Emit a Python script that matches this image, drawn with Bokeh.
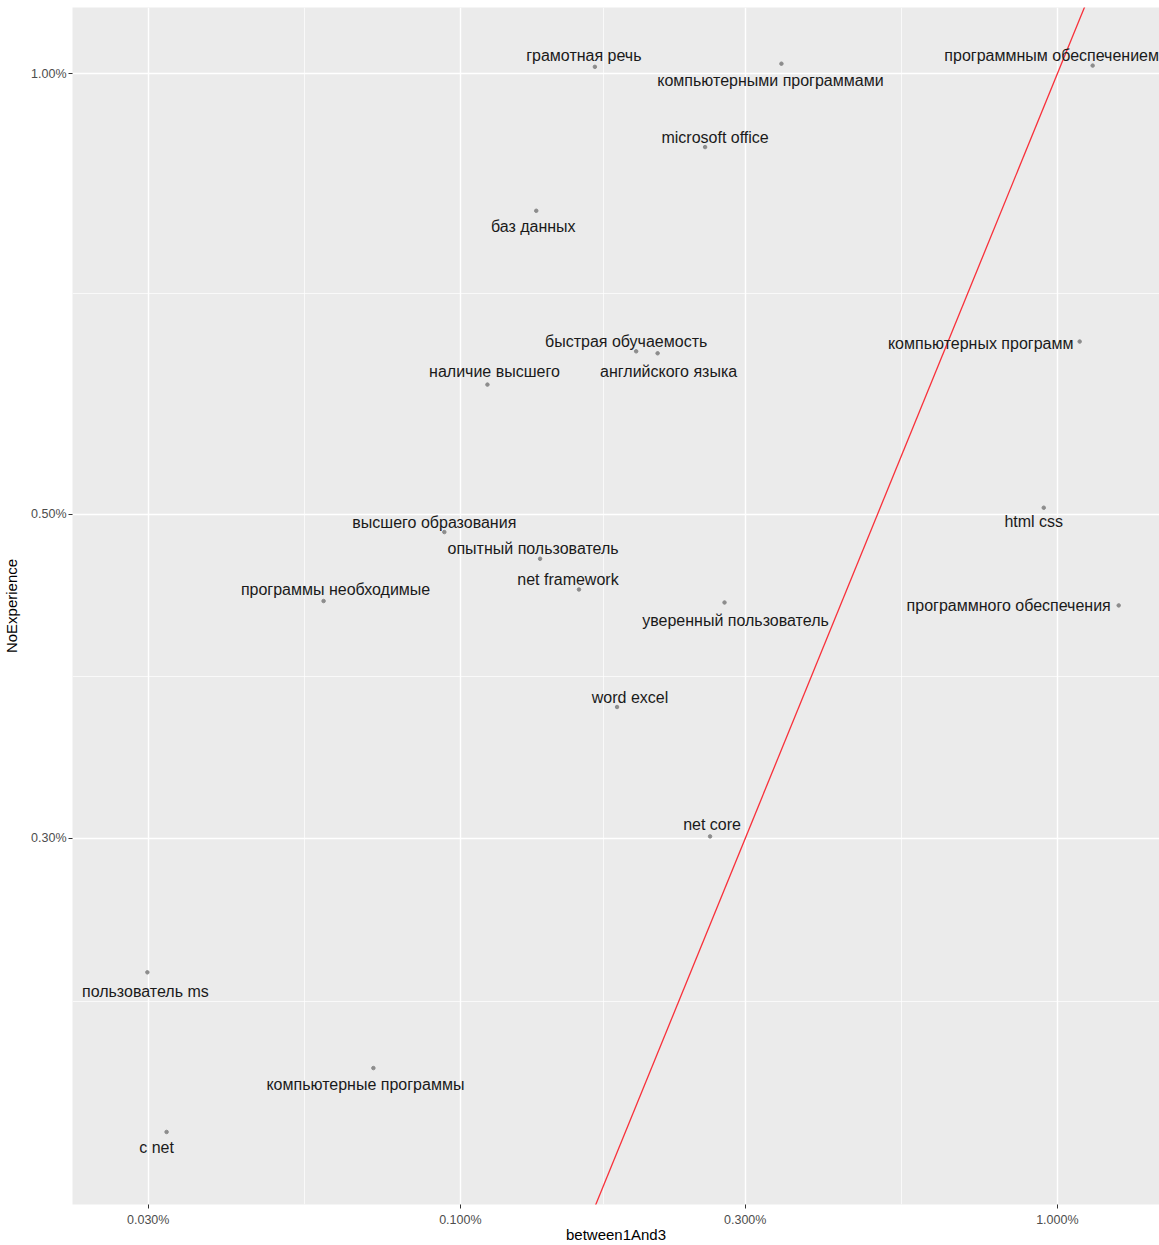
from bokeh.plotting import figure
from bokeh.models import ColumnDataSource, FixedTicker, Range1d
from bokeh.embed import file_html
from bokeh.resources import INLINE
from bokeh.core.properties import value

# ---- data (shares) ----
words = [
    "грамотная речь", "компьютерными программами", "программным обеспечением",
    "microsoft office", "баз данных", "быстрая обучаемость", "английского языка",
    "наличие высшего", "компьютерных программ", "высшего образования",
    "опытный пользователь", "net framework", "программы необходимые",
    "уверенный пользователь", "html css", "программного обеспечения",
    "word excel", "net core", "пользователь ms", "компьютерные программы", "c net",
]
between1And3 = [
    0.00168, 0.00345, 0.01146, 0.00257, 0.00134, 0.00197, 0.00214,
    0.00111, 0.01090, 0.00094, 0.00136, 0.00158, 0.00059, 0.00277,
    0.00949, 0.01267, 0.00183, 0.00262, 0.000299, 0.000715, 0.000322,
]
noExperience = [
    0.01011, 0.01016, 0.01013, 0.00891, 0.00806, 0.00646, 0.00644,
    0.00613, 0.00656, 0.00486, 0.00466, 0.00444, 0.00436, 0.00435,
    0.00505, 0.00433, 0.00369, 0.00301, 0.00243, 0.00209, 0.00189,
]
# label displacement (screen px) as placed by the repel layout
label_dx = [-11, -11, -41, 10, -3, -10, 11, 7, -99, -10, -7, -11, 12, 11, -10, -110, 13, 2, -2, -8, -10]
label_dy = [-11, 17, -10, -10, 16, -10, 18, -13, 2, -10, -10, -10, -12, 18, 14, 0, -10, -12, 19, 16, 16]

x_ticks = [0.0003, 0.001, 0.003, 0.01]
x_tick_labels = ["0.030%", "0.100%", "0.300%", "1.000%"]
x_minor = [10 ** -3.261, 10 ** -2.761, 10 ** -2.261]
y_ticks = [0.003, 0.005, 0.01]
y_tick_labels = ["0.30%", "0.50%", "1.00%"]
y_minor = [10 ** -2.634, 10 ** -2.412, 10 ** -2.15]

x_lo, x_hi = 0.000224, 0.01483
y_lo, y_hi = 0.001686, 0.01110

FONT = "Liberation Sans"

src = ColumnDataSource(dict(x=between1And3, y=noExperience, w=words,
                            dx=label_dx, dy=label_dy))

p = figure(width=1159, height=1245, x_axis_type="log", y_axis_type="log",
           x_range=Range1d(x_lo, x_hi), y_range=Range1d(y_lo, y_hi),
           output_backend="svg", toolbar_location=None,
           min_border_left=72, min_border_right=0, min_border_top=7,
           min_border_bottom=40)

p.background_fill_color = "#EBEBEB"
p.border_fill_color = "white"
p.outline_line_color = None

for ax, ticks, labels, minor in ((p.xaxis[0], x_ticks, x_tick_labels, x_minor),
                                 (p.yaxis[0], y_ticks, y_tick_labels, y_minor)):
    ax.ticker = FixedTicker(ticks=ticks, minor_ticks=minor)
    ax.major_label_overrides = {t: l for t, l in zip(ticks, labels)}
    ax.axis_line_color = None
    ax.major_tick_line_color = "#333333"
    ax.major_tick_in = 0
    ax.major_tick_out = 4
    ax.minor_tick_line_color = None
    ax.major_label_text_color = "#4D4D4D"
    ax.major_label_text_font = FONT
    ax.major_label_text_font_size = "12.5px"
    ax.axis_label_text_font = FONT
    ax.axis_label_text_font_size = "15px"
    ax.axis_label_text_font_style = "normal"
    ax.axis_label_text_color = "#000000"

p.xaxis.axis_label = "between1And3"
p.yaxis.axis_label = "NoExperience"
p.xaxis.major_label_standoff = 4
p.xaxis.axis_label_standoff = -4
p.yaxis.major_label_standoff = 2
p.yaxis.axis_label_standoff = 8

for g in (p.xgrid[0], p.ygrid[0]):
    g.grid_line_color = "white"
    g.grid_line_width = 1.4
    g.minor_grid_line_color = "white"
    g.minor_grid_line_width = 0.7
p.xgrid[0].ticker = p.xaxis[0].ticker
p.ygrid[0].ticker = p.yaxis[0].ticker

# reference line y = x
ref = [x_lo, x_hi]
p.line(ref, ref, line_color="#F8303A", line_width=1.3)

p.scatter("x", "y", source=src, size=3.5, color="#8C8C8C")

p.text("x", "y", text="w", source=src, x_offset="dx", y_offset="dy",
       text_align="center", text_baseline="middle",
       text_font=value(FONT), text_font_size="16px", text_color="#1A1A1A")

open("out.html", "w").write(file_html(p, INLINE))
